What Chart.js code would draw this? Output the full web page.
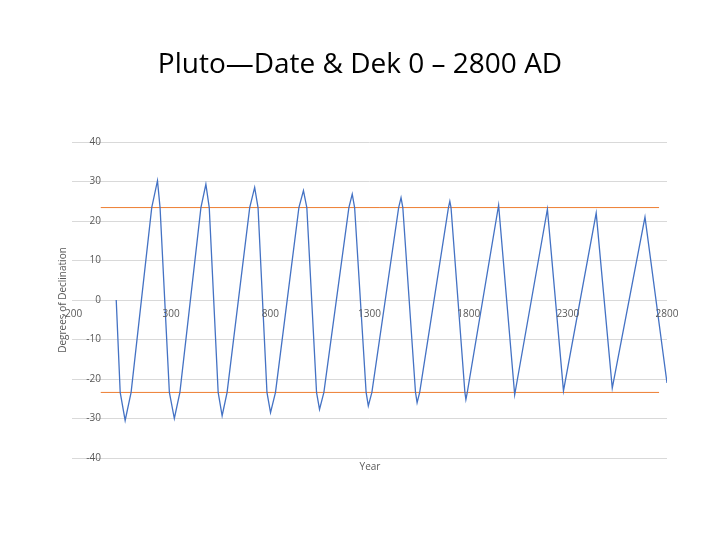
<!DOCTYPE html>
<html><head><meta charset="utf-8">
<script src="https://cdn.jsdelivr.net/npm/chart.js@4/dist/chart.umd.min.js"></script>
<style>html,body{margin:0;padding:0;background:#fff}#w{width:720px;height:540px}</style>
</head><body><div id="w"><canvas id="c"></canvas></div>
<script>
const years = [23,43,68,98,202,231,244,291,316,344,450,475,492,537,557,582,696,721,738,783,801,826,944,967,984,1033,1048,1070,1196,1213,1225,1283,1294,1312,1447,1459,1468,1532,1540,1553,1698,1705,1711,1781,1786,1793,1951,2032,2197,2278,2443,2524,2689,2800];
const declination = [0,-23.4,-30.5,-23.4,23.4,30.2,23.4,-23.4,-30.0,-23.4,23.4,29.3,23.4,-23.4,-29.3,-23.4,23.4,28.5,23.4,-23.4,-28.5,-23.4,23.4,27.7,23.4,-23.4,-27.7,-23.4,23.4,26.8,23.4,-23.4,-26.8,-23.4,23.4,25.9,23.4,-23.4,-26.0,-23.4,23.4,25.0,23.4,-23.4,-25.2,-23.4,24.0,-24.0,23.0,-23.0,22.0,-22.3,21.0,-21.0];
const limitYears = [-55,2760];
const upperLimit = [23.4,23.4];
const lowerLimit = [-23.4,-23.4];
const xTickLabels = [-200,300,800,1300,1800,2300,2800];
const yTickLabels = [40,30,20,10,0,-10,-20,-30,-40];

const pts = (xs, ys) => xs.map((x,i)=>({x, y: ys[i]}));
const font = '"Open Sans", sans-serif';
const labels = {
  id:'labels',
  afterDraw(ch){
    const c=ch.ctx, x=ch.scales.x, y=ch.scales.y;
    c.save();
    c.fillStyle='#000'; c.font='28px '+font; c.textAlign='center'; c.textBaseline='middle';
    c.fillText('Pluto\u2014Date & Dek 0 \u2013 2800 AD',360,65);
    c.fillStyle='#595959'; c.font='10px '+font;
    c.textAlign='right';
    yTickLabels.forEach(v=>c.fillText(String(v), 101, y.getPixelForValue(v)));
    c.textAlign='center';
    xTickLabels.forEach(v=>c.fillText(String(v), x.getPixelForValue(v), y.getPixelForValue(0)+14));
    c.fillText('Year', 370, 467);
    c.translate(63,300); c.rotate(-Math.PI/2);
    c.fillText('Degrees of Declination',0,0);
    c.restore();
  }
};
new Chart(document.getElementById('c'),{
  type:'scatter',
  data:{datasets:[
    {data:pts(years,declination),showLine:true,borderColor:'#4472c4',borderWidth:1.3,pointRadius:0,tension:0},
    {data:pts(limitYears,upperLimit),showLine:true,borderColor:'#ed7d31',borderWidth:1,pointRadius:0},
    {data:pts(limitYears,lowerLimit),showLine:true,borderColor:'#ed7d31',borderWidth:1,pointRadius:0}
  ]},
  options:{
    responsive:true,maintainAspectRatio:false,animation:false,
    layout:{padding:{left:72,right:53,top:142,bottom:74}},
    plugins:{legend:{display:false},tooltip:{enabled:false}},
    scales:{
      x:{type:'linear',min:-200,max:2800,ticks:{display:false},grid:{display:false},border:{display:false}},
      y:{min:-40,max:40,ticks:{display:false,stepSize:10},grid:{color:'#d9d9d9',drawTicks:false},border:{display:false}}
    }
  },
  plugins:[labels]
});
</script></body></html>
